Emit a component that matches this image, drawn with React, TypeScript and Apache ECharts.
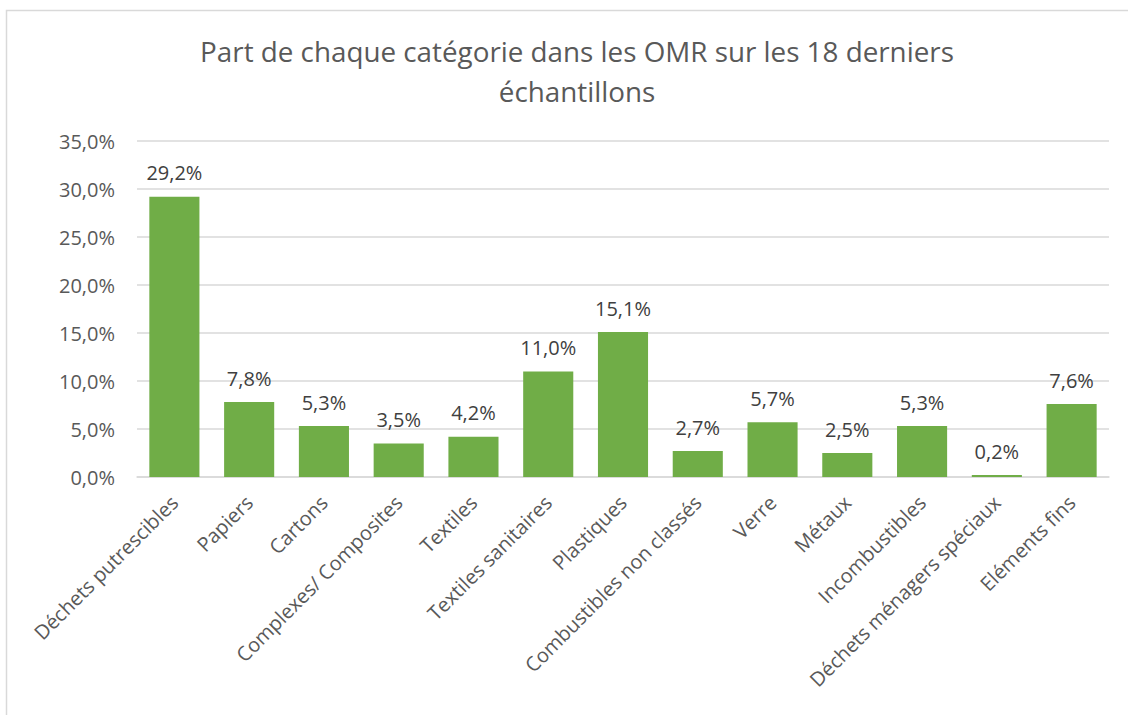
import React, { useEffect, useRef } from "react";
import * as echarts from "echarts";

const titleLines = ["Part de chaque catégorie dans les OMR sur les 18 derniers", "échantillons"];
const categories = [
  "Déchets putrescibles",
  "Papiers",
  "Cartons",
  "Complexes/ Composites",
  "Textiles",
  "Textiles sanitaires",
  "Plastiques",
  "Combustibles non classés",
  "Verre",
  "Métaux",
  "Incombustibles",
  "Déchets ménagers spéciaux",
  "Eléments fins",
];
const values = [29.2, 7.8, 5.3, 3.5, 4.2, 11.0, 15.1, 2.7, 5.7, 2.5, 5.3, 0.2, 7.6];
const yMin = 0;
const yMax = 35;
const yStep = 5;

const fmt = (v: number) => v.toFixed(1).replace(".", ",") + "%";

export default function App() {
  const ref = useRef<HTMLDivElement>(null);
  useEffect(() => {
    if (!ref.current) return;
    const chart = echarts.init(ref.current, null, { renderer: "svg" });
    const font = "'Open Sans', 'Noto Sans', sans-serif";
    chart.setOption({
      animation: false,
      backgroundColor: "#ffffff",
      textStyle: { fontFamily: font },
      title: {
        text: titleLines.join("\n"),
        left: 572,
        top: 26,
        textAlign: "center",
        textStyle: { fontFamily: font, fontSize: 27.8, fontWeight: "normal", color: "#595959", lineHeight: 40 },
      },
      graphic: [
        {
          type: "rect",
          shape: { x: 6.5, y: 10.5, width: 1200, height: 800 },
          style: { fill: "none", stroke: "#d9d9d9", lineWidth: 1.5 },
          silent: true,
        },
      ],
      grid: { left: 137, right: 19, top: 141, bottom: 238, containLabel: false },
      xAxis: {
        type: "category",
        data: categories,
        axisLine: { show: true, lineStyle: { color: "#d9d9d9", width: 1.5 } },
        axisTick: { show: false },
        axisLabel: {
          rotate: 45,
          interval: 0,
          fontSize: 20,
          color: "#595959",
          fontFamily: font,
          margin: 22,
        },
      },
      yAxis: {
        type: "value",
        min: yMin,
        max: yMax,
        interval: yStep,
        axisLine: { show: false },
        axisTick: { show: false },
        splitLine: { lineStyle: { color: "#d9d9d9", width: 1.5 } },
        axisLabel: {
          formatter: (v: number) => fmt(v),
          fontSize: 20,
          color: "#595959",
          fontFamily: font,
          margin: 22,
        },
      },
      series: [
        {
          type: "bar",
          data: values,
          barCategoryGap: "33%",
          itemStyle: { color: "#70ad47" },
          label: {
            show: true,
            position: "top",
            distance: 14,
            formatter: (p: any) => fmt(p.value),
            fontSize: 20,
            color: "#404040",
            fontFamily: font,
          },
        },
      ],
    });
    return () => chart.dispose();
  }, []);
  return (
    <div
      ref={ref}
      style={{ position: "absolute", left: 0, top: 0, width: 1128, height: 715 }}
    />
  );
}
